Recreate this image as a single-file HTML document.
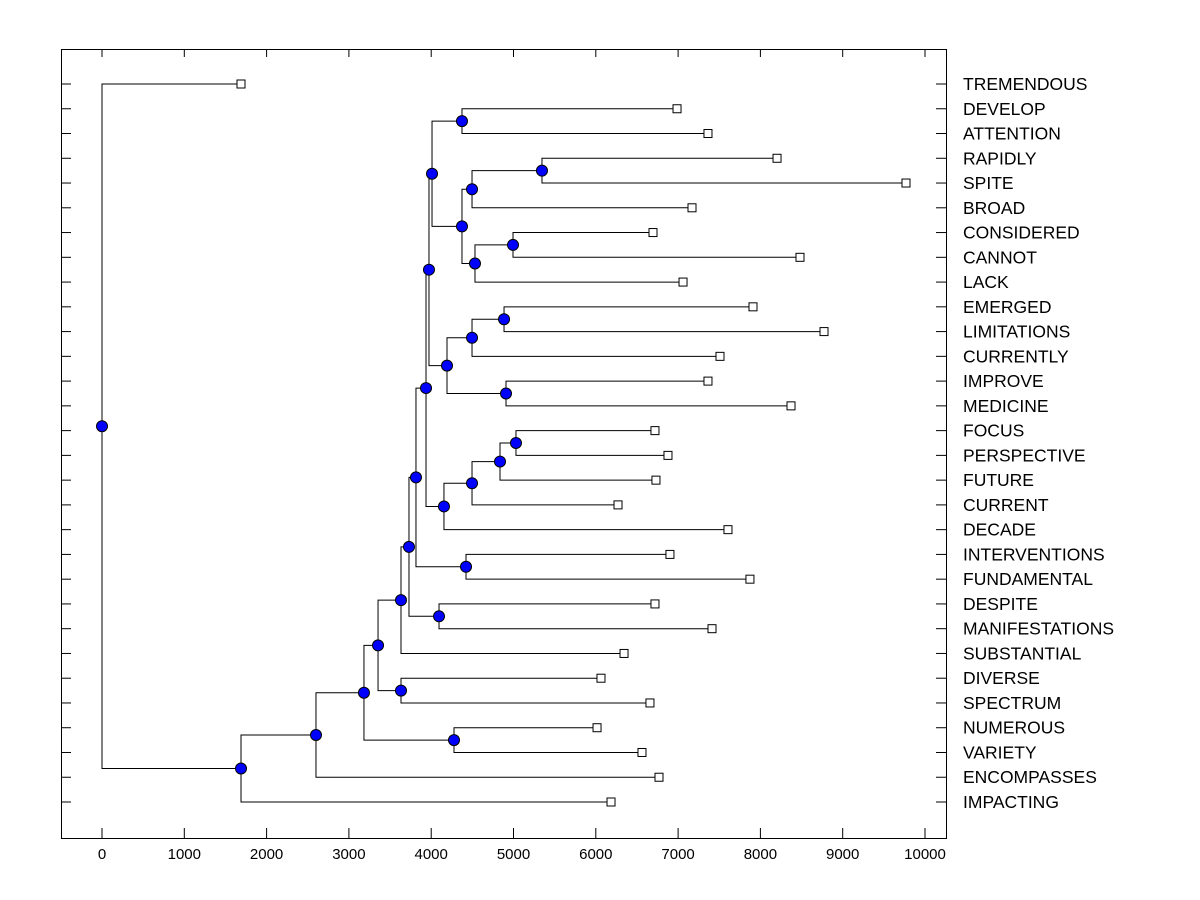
<!DOCTYPE html>
<html><head><meta charset="utf-8"><style>
body{margin:0;background:#fff}
svg{display:block;font-family:"Liberation Sans",Arial,sans-serif}
</style></head><body>
<svg id="chart" width="1200" height="900">
<rect x="61.5" y="49.5" width="885" height="789" fill="#fff" stroke="#000" stroke-width="1"/>
<g id="links"></g>
<g id="nodes"></g>
<g id="axes"></g>
</svg>
<script>
const leafNames = ["TREMENDOUS","DEVELOP","ATTENTION","RAPIDLY","SPITE","BROAD","CONSIDERED","CANNOT","LACK","EMERGED","LIMITATIONS","CURRENTLY","IMPROVE","MEDICINE","FOCUS","PERSPECTIVE","FUTURE","CURRENT","DECADE","INTERVENTIONS","FUNDAMENTAL","DESPITE","MANIFESTATIONS","SUBSTANTIAL","DIVERSE","SPECTRUM","NUMEROUS","VARIETY","ENCOMPASSES","IMPACTING"];
const leafValues = [1689,6987,7363,8202,9769,7169,6695,8481,7060,7910,8773,7509,7363,8372,6719,6877,6731,6270,7606,6901,7873,6719,7412,6343,6063,6658,6015,6561,6768,6185];
const nodeNames = ["root","A","B","C","NV","D","DS","E","F","DM","G","IF","H","J","K","L","FP","I","N","IM","O","EL","M","DA","P","Q","RS","R","CC"];
const nodeHeights = [0,1689,2600,3183,4277,3354,3633,3633,3730,4095,3815,4423,3937,4155,4496,4836,5030,3973,4192,4909,4496,4885,4010,4374,4374,4496,5346,4532,4994];
const nodeChildren = [["TREMENDOUS","A"],["B","IMPACTING"],["C","ENCOMPASSES"],["D","NV"],["NUMEROUS","VARIETY"],["E","DS"],["DIVERSE","SPECTRUM"],["F","SUBSTANTIAL"],["G","DM"],["DESPITE","MANIFESTATIONS"],["H","IF"],["INTERVENTIONS","FUNDAMENTAL"],["I","J"],["K","DECADE"],["L","CURRENT"],["FP","FUTURE"],["FOCUS","PERSPECTIVE"],["M","N"],["O","IM"],["IMPROVE","MEDICINE"],["EL","CURRENTLY"],["EMERGED","LIMITATIONS"],["DA","P"],["DEVELOP","ATTENTION"],["Q","R"],["RS","BROAD"],["RAPIDLY","SPITE"],["CC","LACK"],["CONSIDERED","CANNOT"]];
const xTicks = [0,1000,2000,3000,4000,5000,6000,7000,8000,9000,10000];

const NS="http://www.w3.org/2000/svg";
const X = v => 102 + v*(925-102)/10000;
const Y = i => 84 + i*(802-84)/29;
function mk(tag, attrs, parent){const e=document.createElementNS(NS,tag);for(const k in attrs)e.setAttribute(k,attrs[k]);parent.appendChild(e);return e;}
const links=document.getElementById('links'), nodesG=document.getElementById('nodes'), axes=document.getElementById('axes');

const pos={};
leafNames.forEach((n,i)=>{pos[n]={x:X(leafValues[i]),y:Y(i)};});
function resolve(name){
  if(pos[name])return pos[name];
  const k=nodeNames.indexOf(name);
  const [c1,c2]=nodeChildren[k];
  const p1=resolve(c1),p2=resolve(c2);
  pos[name]={x:X(nodeHeights[k]),y:(p1.y+p2.y)/2};
  return pos[name];
}
nodeNames.forEach(resolve);
nodeNames.forEach((n,k)=>{
  const p=pos[n];
  nodeChildren[k].forEach(c=>{
    const q=pos[c];
    const l=mk('polyline',{points:`${p.x},${p.y} ${p.x},${q.y} ${q.x},${q.y}`,fill:'none',stroke:'#000','stroke-width':1},links);
    
    
  });
});
leafNames.forEach((n,i)=>{
  const p=pos[n];
  const r=mk('rect',{x:p.x-4,y:p.y-4,width:8,height:8,fill:'#fff',stroke:'#000','stroke-width':1},nodesG);
  
  
  const t=mk('text',{x:963,y:Y(i)+6,'font-size':17.5,fill:'#000'},axes);
  t.textContent=n;
  
  
  mk('line',{x1:61,x2:71,y1:Y(i),y2:Y(i),stroke:'#000'},axes);
  mk('line',{x1:936,x2:946,y1:Y(i),y2:Y(i),stroke:'#000'},axes);
});
nodeNames.forEach(n=>{
  const p=pos[n];
  const c=mk('circle',{cx:p.x,cy:p.y,r:5.5,fill:'#0000ff',stroke:'#000','stroke-width':1},nodesG);
  
  
});
xTicks.forEach(v=>{
  mk('line',{x1:X(v),x2:X(v),y1:828,y2:838,stroke:'#000'},axes);
  mk('line',{x1:X(v),x2:X(v),y1:49,y2:57,stroke:'#000'},axes);
  const t=mk('text',{x:X(v),y:859,'font-size':15,'text-anchor':'middle',fill:'#000'},axes);
  t.textContent=v;
  
  
});
</script>
</body></html>
